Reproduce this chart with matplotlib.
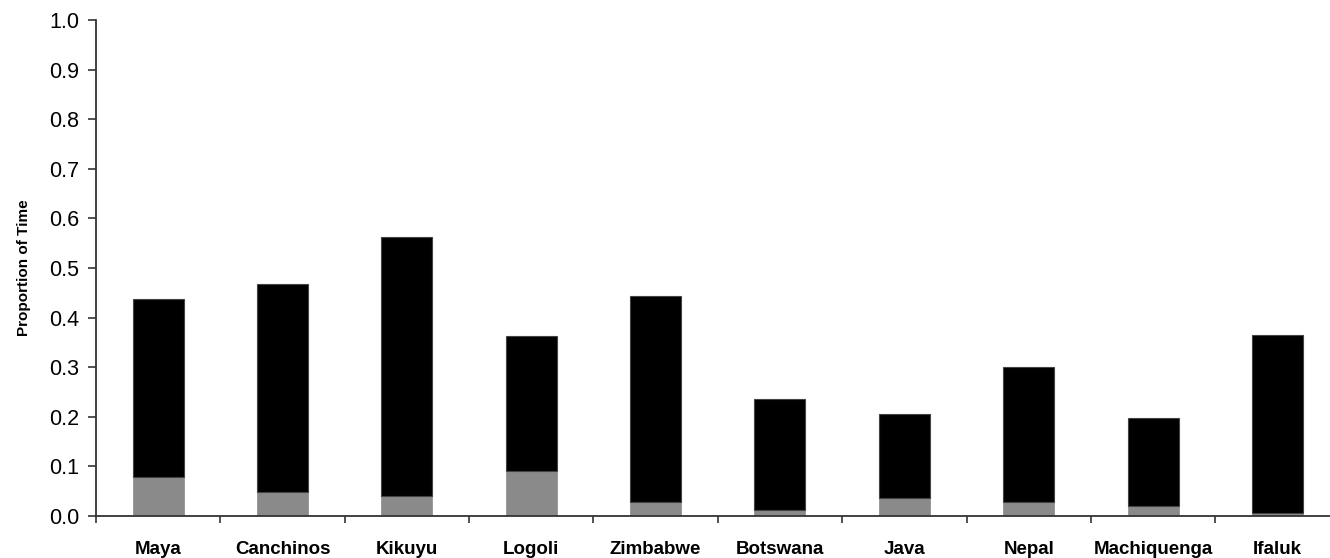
import matplotlib
matplotlib.use("Agg")
import matplotlib.pyplot as plt
import numpy as np

plt.rcParams['font.family'] = ['Liberation Sans', 'DejaVu Sans']

# data
groups = ['Maya', 'Canchinos', 'Kikuyu', 'Logoli', 'Zimbabwe',
          'Botswana', 'Java', 'Nepal', 'Machiquenga', 'Ifaluk']
totals = [0.438, 0.467, 0.563, 0.363, 0.444, 0.235, 0.206, 0.301, 0.198, 0.364]
grey_part = [0.078, 0.049, 0.040, 0.090, 0.029, 0.012, 0.036, 0.029, 0.020, 0.007]
black_part = [t - g for t, g in zip(totals, grey_part)]
yticks = np.arange(0, 1.01, 0.1)

fig = plt.figure(figsize=(13.3, 5.58), dpi=100)
ax = fig.add_axes([0.0722, 0.0753, 0.935, 0.889])

x = np.arange(len(groups))
ax.bar(x, grey_part, width=0.41, color='#8a8a8a', edgecolor='#8a8a8a', linewidth=0.5)
ax.bar(x, black_part, width=0.41, bottom=grey_part, color='black',
       edgecolor='#444444', linewidth=0.8)

ax.set_xlim(-0.5, len(groups) - 0.5)
ax.set_ylim(0, 1.0)
ax.set_yticks(yticks)
ax.set_yticklabels([f"{v:.1f}" for v in yticks], fontsize=15.5)

# ticks between categories, labels under the bars
ax.set_xticks(np.arange(-0.5, len(groups) - 0.5, 1.0))
ax.set_xticklabels([])
ax.set_xticks(x, minor=True)
ax.set_xticklabels(groups, minor=True, fontsize=13.5, fontweight='bold')
ax.tick_params(axis='x', which='major', direction='out', length=5, width=1.2, color='#333333')
ax.tick_params(axis='x', which='minor', length=0, pad=18)
ax.tick_params(axis='y', direction='out', length=6, width=1.2, color='#333333', pad=6)

ax.set_ylabel('Proportion of Time', fontsize=11, fontweight='bold', labelpad=13)

for side in ['top', 'right']:
    ax.spines[side].set_visible(False)
for side in ['left', 'bottom']:
    ax.spines[side].set_linewidth(1.3)
    ax.spines[side].set_color('#333333')

fig.savefig('out.png', dpi=100)
